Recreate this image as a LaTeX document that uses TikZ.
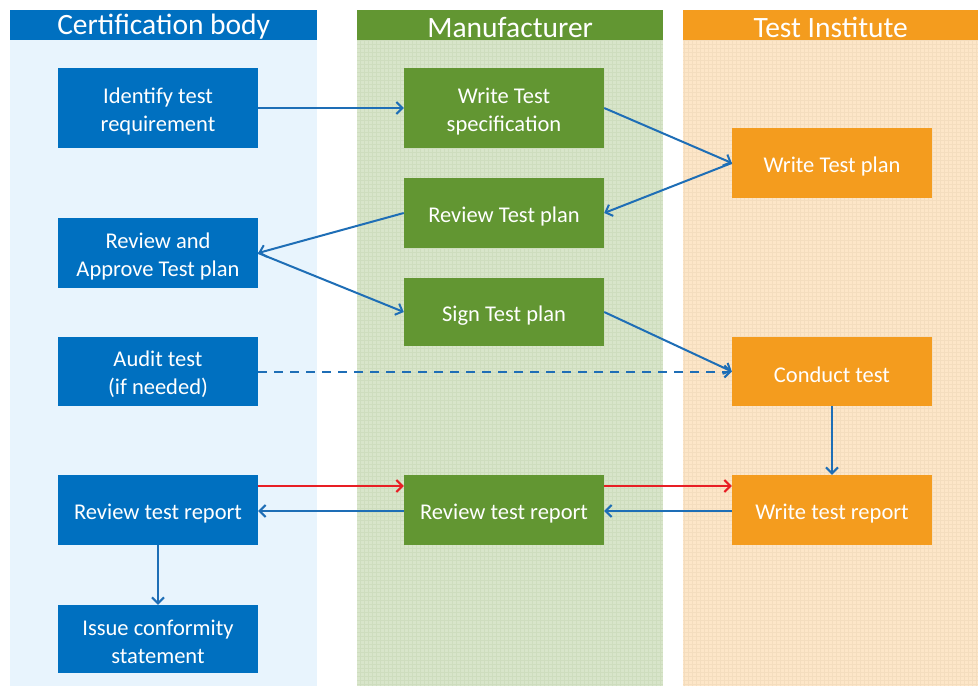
\documentclass[tikz,border=0pt]{standalone}
\usepackage{fontspec}
\setmainfont{Carlito}
\usetikzlibrary{arrows.meta}
\definecolor{cbblue}{RGB}{0,112,192}
\definecolor{mgreen}{RGB}{98,150,50}
\definecolor{torange}{RGB}{244,156,30}
\definecolor{bgblue}{RGB}{232,244,253}
\definecolor{bggreen}{RGB}{216,229,202}
\definecolor{bgorange}{RGB}{253,230,200}
\definecolor{gridgreen}{RGB}{206,221,190}
\definecolor{gridorange}{RGB}{244,221,190}
\definecolor{arrblue}{RGB}{30,110,182}
\definecolor{arrred}{RGB}{232,30,36}
\newcommand{\tpstrut}{\rule{0pt}{22pt}}
\tikzset{
  box/.style={rectangle, minimum width=200pt, text=white, font=\fontsize{22.5}{28}\selectfont, align=center, inner sep=0pt, execute at begin node={\tpstrut}},
  cbbox/.style={box, fill=cbblue},
  mbox/.style={box, fill=mgreen},
  tbox/.style={box, fill=torange},
  header/.style={rectangle, text=white, font=\fontsize{29.5}{32}\selectfont, inner sep=0pt, minimum height=30pt, execute at begin node={\rule{0pt}{24pt}}},
  conn/.style={draw=arrblue, line width=2pt, -{Straight Barb[length=6pt,width=12pt,line width=2pt]}},
  redconn/.style={conn, draw=arrred}
}
\begin{document}
\begin{tikzpicture}[x=1pt,y=-1pt]
\useasboundingbox (0,0) rectangle (978,686);
\fill[white] (0,0) rectangle (978,686);
% lanes
\fill[bgblue] (10,40) rectangle (317,686);
\fill[bggreen] (357,40) rectangle (663,686);
\fill[bgorange] (683,40) rectangle (978,686);
\draw[gridgreen, line width=0.4pt, step=4pt] (357,40) grid (663,686);
\draw[gridorange, line width=0.4pt, step=4pt] (683,40) grid (978,686);
% headers
\node[header, fill=cbblue, minimum width=307pt, anchor=north west] (hcb) at (10,10) {Certification body};
\node[header, fill=mgreen, minimum width=306pt, anchor=north west] (hm) at (357,10) {Manufacturer};
\node[header, fill=torange, minimum width=295pt, anchor=north west] (ht) at (683,10) {Test Institute};
% boxes
\node[cbbox, minimum height=80pt] (ident) at (158,108) {\tpstrut Identify test\\requirement};
\node[mbox, minimum height=80pt] (wspec) at (504,108) {\tpstrut Write Test\\specification};
\node[tbox, minimum height=70pt] (wplan) at (832,163) {Write Test plan};
\node[mbox, minimum height=70pt] (rplan) at (504,213) {Review Test plan};
\node[cbbox, minimum height=70pt] (approve) at (158,253) {\tpstrut Review and\\Approve Test plan};
\node[mbox, minimum height=68pt] (sign) at (504,312) {Sign Test plan};
\node[cbbox, minimum height=69pt] (audit) at (158,371.5) {\tpstrut Audit test\\(if needed)};
\node[tbox, minimum height=69pt] (conduct) at (832,371.5) {Conduct test};
\node[cbbox, minimum height=70pt] (cbrev) at (158,510) {Review test report};
\node[mbox, minimum height=70pt] (mrev) at (504,510) {Review test report};
\node[tbox, minimum height=70pt] (wrep) at (832,510) {Write test report};
\node[cbbox, minimum height=68pt] (issue) at (158,639) {\tpstrut Issue conformity\\statement};
% connectors
\draw[conn] (ident.east) -- (wspec.west);
\draw[conn] (wspec.east) -- (wplan.west);
\draw[conn] (wplan.west) -- (rplan.east);
\draw[conn] (rplan.west) -- (approve.east);
\draw[conn] (approve.east) -- (sign.west);
\draw[conn] (sign.east) -- (conduct.west);
\draw[conn, dash pattern=on 9pt off 7pt] (audit.east) -- (conduct.west);
\draw[conn] (conduct.south) -- (wrep.north);
\draw[redconn] ([yshift=24pt]cbrev.east) -- ([yshift=24pt]mrev.west);
\draw[redconn] ([yshift=24pt]mrev.east) -- ([yshift=24pt]wrep.west);
\draw[conn] ([yshift=-1pt]mrev.west) -- ([yshift=-1pt]cbrev.east);
\draw[conn] ([yshift=-1pt]wrep.west) -- ([yshift=-1pt]mrev.east);
\draw[conn] (cbrev.south) -- (issue.north);
\end{tikzpicture}
\end{document}
